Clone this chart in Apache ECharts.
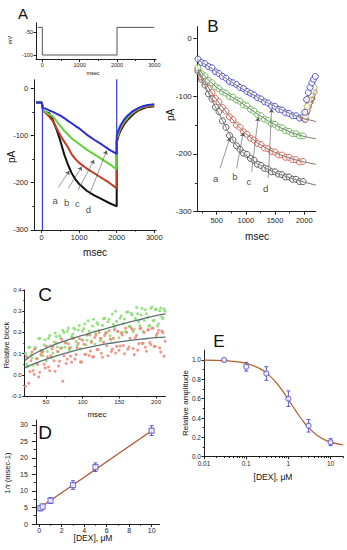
<!DOCTYPE html>
<html><head><meta charset="utf-8">
<script src="https://cdn.jsdelivr.net/npm/echarts@6/dist/echarts.min.js"></script>
<style>html,body{margin:0;padding:0;background:#fff}#c{width:347px;height:550px}</style>
</head><body><div id="c"></div>
<script>
// ---------- Panel A (top): voltage protocol ----------
const vT  = [-120, 0, 0, 2000, 2000, 3000];
const vMV = [-40, -40, -100, -100, -40, -40];

// ---------- Panel A (main): current traces ----------
const aBlueT  = [-150,0,30,100,200,300,400,500,600,700,800,900,1000,1200,1400,1600,1800,2000,2000,2050,2100,2200,2300,2400,2500,2600,2700,2800,2900,3000];
const aBlueV  = [-30,-30,-42,-43,-47,-50,-54,-58,-63,-69,-74,-80,-85,-98,-109,-119,-130,-139,-100,-88,-79,-66,-57,-50,-45,-41,-38,-36,-35,-34];
const aGreenT = [-150,0,40,100,200,300,400,500,600,700,800,1000,1200,1400,1600,1800,2000,2000,2050,2100,2200,2300,2400,2500,2600,2700,2800,2900,3000];
const aGreenV = [-30,-30,-48,-50,-55,-60,-70,-80,-90,-98,-106,-118,-130,-140,-150,-160,-172,-108,-93,-83,-70,-61,-53,-47,-43,-39,-37,-36,-35];
const aRedT   = [-150,0,40,100,200,300,400,500,600,700,800,900,1000,1200,1400,1600,1800,2000,2000,2050,2100,2200,2300,2400,2500,2600,2700,2800,2900,3000];
const aRedV   = [-30,-30,-48,-52,-60,-70,-85,-100,-113,-125,-140,-150,-158,-170,-180,-190,-200,-212,-112,-97,-87,-73,-63,-55,-49,-44,-41,-39,-38,-37];
const aBlackT = [-150,0,40,100,200,300,400,500,600,700,800,900,1000,1200,1400,1600,1800,2000,2000,2050,2100,2200,2300,2400,2500,2600,2700,2800,2900,3000];
const aBlackV = [-30,-30,-48,-50,-53,-68,-88,-112,-140,-162,-180,-193,-203,-217,-227,-235,-243,-250,-115,-100,-90,-76,-66,-58,-51,-46,-43,-40,-39,-38];
const capOnT = [20, 20],     capOnV = [-40, -300];
const capOffT = [2000, 2000], capOffV = [20, -110];
const aLabels = ['a','b','c','d'];
const aLabelPos = [[355,-238],[667,-242],[949,-245],[1243,-256]];
const aArrowFrom = [[443,-210],[709,-212],[976,-215],[1270,-226]];
const aArrowTo   = [[736,-175],[1067,-166],[1395,-152],[1733,-132]];

// ---------- Panel B ----------
const bT = [180,240,300,360,420,480,540,600,660,720,780,840,900,960,1020,1080,1140,1200,1260,1320,1380,1440,1500,1560,1620,1680,1740,1800,1860,1920,1980];
const bBlue  = [-36,-42,-44,-49,-51,-58,-61,-66,-69,-75,-77,-80,-85,-87,-92,-95,-98,-103,-105,-110,-112,-117,-118,-123,-124,-129,-130,-134,-134,-138,-137];
const bGreen = [-51,-61,-65,-73,-77,-84,-87,-93,-95,-101,-102,-107,-109,-115,-117,-123,-126,-132,-134,-140,-142,-148,-149,-154,-155,-160,-161,-165,-165,-169,-169];
const bRed   = [-54,-67,-75,-87,-94,-104,-110,-120,-126,-136,-141,-150,-154,-162,-166,-173,-176,-182,-184,-190,-191,-196,-197,-202,-202,-206,-206,-210,-210,-214,-213];
const bBlack = [-57,-71,-81,-96,-105,-119,-127,-143,-154,-168,-176,-186,-192,-199,-201,-208,-211,-218,-220,-225,-226,-231,-231,-235,-236,-240,-240,-244,-244,-248,-248];
const bFitT = [180,300,400,500,600,700,800,900,1000,1200,1400,1600,1800,2000,2200];
const bFitBlue  = [-37,-45,-51,-58,-65,-72,-79,-85,-91,-102,-113,-123,-132,-139,-144];
const bFitGreen = [-52,-66,-76,-85,-92,-98,-104,-110,-117,-131,-144,-155,-164,-170,-174];
const bFitRed   = [-55,-76,-92,-106,-119,-132,-144,-155,-165,-181,-193,-202,-209,-214,-218];
const bFitBlack = [-58,-82,-103,-123,-142,-162,-180,-193,-202,-217,-228,-236,-243,-249,-254];
const bRecBlueT  = [2010,2040,2070,2100,2130,2160,2190], bRecBlueV  = [-128,-106,-94,-85,-77,-71,-66];
const bRecGreenT = [2020,2050,2080,2110,2140,2170],      bRecGreenV = [-135,-118,-106,-97,-90,-85];
const bRecRedT   = [2020,2050,2080,2110,2140,2170],      bRecRedV   = [-140,-125,-113,-104,-97,-92];
const bRecBlackT = [2010,2040,2070,2100,2130],           bRecBlackV = [-140,-128,-118,-110,-104];
const bLabelPos = [[483,-242],[813,-239],[1053,-248],[1339,-260]];
const bArrowFrom = [[557,-225],[842,-225],[1099,-231],[1384,-242]];
const bArrowTo   = [[728,-172],[955,-163],[1212,-137],[1442,-122]];

// ---------- Panel C ----------
const xC = [22,25,28,31,34,37,40,43,46,49,52,55,58,61,64,67,70,73,76,79,82,85,88,91,94,97,100,103,106,109,112,115,118,121,124,127,130,133,136,139,142,145,148,151,154,157,160,163,166,169,172,175,178,181,184,187,190,193,196,199,202,205,208,211];
const cGreen = [.10,.04,.13,.08,.12,.055,.17,.115,.09,.165,.11,.185,.08,.155,.18,.11,.175,.21,.13,.205,.117,.18,.22,.157,.21,.123,.206,.24,.163,.206,.159,.262,.195,.238,.161,.233,.266,.199,.262,.165,.238,.30,.204,.267,.20,.263,.295,.228,.29,.203,.266,.288,.231,.313,.256,.288,.23,.313,.255,.308,.23,.302,.273,.31];
const cRed = [-.055,.08,.015,.108,.002,.076,-.01,.094,.11,.032,.085,.019,.122,.066,.15,.042,.125,-.03,.15,.074,.127,.06,.173,.096,.148,.061,.163,.096,.188,.091,.153,.085,.187,.119,.171,.083,.185,.137,.208,.11,.172,.103,.205,.136,.188,.099,.20,.131,.223,.124,.175,.116,.217,.148,.20,.111,.212,.143,.22,.135,.196,.127,.207,.088];
const xC2 = [23.5,26.5,29.5,32.5,35.5,38.5,41.5,44.5,47.5,50.5,53.5,56.5,59.5,62.5,65.5,68.5,71.5,74.5,77.5,80.5,83.5,86.5,89.5,92.5,95.5,98.5,101.5,104.5,107.5,110.5,113.5,116.5,119.5,122.5,125.5,128.5,131.5,134.5,137.5,140.5,143.5,146.5,149.5,152.5,155.5,158.5,161.5,164.5,167.5,170.5,173.5,176.5,179.5,182.5,185.5,188.5,191.5,194.5,197.5,200.5,203.5,206.5,209.5,212.5];
const cGreen2 = [.05,.13,.095,.045,.13,.077,.172,.107,.142,.065,.172,.137,.102,.197,.131,.184,.127,.20,.153,.22,.128,.192,.215,.138,.232,.165,.218,.142,.255,.188,.23,.144,.246,.21,.172,.265,.198,.25,.184,.287,.22,.252,.175,.278,.242,.204,.297,.23,.282,.215,.317,.25,.282,.205,.307,.27,.232,.32,.257,.309,.241,.315,.264,.30];
const cRed2 = [.086,-.04,.066,.02,.124,.048,.012,.106,.05,.134,.037,.09,.134,.017,.11,.064,.167,.09,.053,.146,.088,.171,.074,.127,.17,.06,.144,.097,.189,.112,.084,.176,.118,.20,.102,.154,.196,.09,.169,.121,.212,.134,.116,.197,.138,.22,.121,.172,.214,.095,.186,.147,.22,.149,.13,.211,.152,.22,.134,.185,.21,.107,.198,.158];
const cFitX = [21,30,40,50,60,80,100,120,140,160,180,200,213];
const cFitGreen = [.068,.09,.11,.125,.14,.165,.186,.207,.226,.245,.262,.279,.287];
const cFitRed   = [.033,.047,.06,.073,.085,.105,.123,.138,.150,.160,.168,.175,.178];

// ---------- Panel D ----------
const dX = [0.1, 0.3, 1, 3, 5, 10];
const dY = [4.8, 5.3, 7.1, 11.8, 17.2, 28.3];
const dErr = [0.8, 0.75, 0.9, 1.3, 1.3, 1.5];
const dFitX = [0.05, 10.2], dFitY = [4.9, 28.7];

// ---------- Panel E ----------
const eX = [0.03, 0.1, 0.3, 1, 3, 10];
const eY = [1.0, 0.93, 0.86, 0.60, 0.32, 0.15];
const eErr = [0, 0.045, 0.07, 0.08, 0.065, 0.036];
const eFitX = [0.01,0.02,0.05,0.1,0.2,0.3,0.5,0.7,1,1.5,2,3,5,7,10,20];
const eFitY = [0.998,0.995,0.985,0.964,0.916,0.867,0.772,0.69,0.59,0.473,0.395,0.30,0.216,0.178,0.151,0.121];

// ---------- build ----------
const FONT = '"Liberation Sans", Arial, sans-serif';
const AX = '#1e1e1e';
const zip = (xs, ys) => xs.map((x, i) => [x, ys[i]]);

const grids = [
  {left: 36.0, top: 22.8, width: 120.2, height: 36.8},   // A top
  {left: 34.2, top: 79.8, width: 121.9, height: 150.1},  // A main
  {left: 196.8, top: 26.7, width: 119.1, height: 185},   // B
  {left: 24.7, top: 290, width: 140.8, height: 106},     // C
  {left: 35.9, top: 420, width: 123.6, height: 104},     // D
  {left: 204, top: 350.3, width: 139.3, height: 106.4}   // E
];

const fPlain = v => String(Number(Number(v).toPrecision(6)));
function mkAxis(dim, g, o) {
  const base = {
    type: o.type || 'value', gridIndex: g, min: o.min, max: o.max,
    position: dim === 'x' ? 'bottom' : 'left', offset: 0,
    splitLine: {show: false}, minorTick: {show: false}, minorSplitLine: {show: false}
  };
  if (o.type === 'log') base.logBase = 10;
  const main = Object.assign({}, base, {
    axisLine: {show: true, onZero: false, lineStyle: {color: AX, width: 1}},
    axisTick: {show: true, length: o.tick || 3, customValues: o.majors, lineStyle: {color: AX, width: 1}},
    axisLabel: {show: true, customValues: o.majors, fontSize: o.fs, margin: o.margin, color: AX,
      fontFamily: FONT, formatter: o.fmt || fPlain, showMinLabel: true, showMaxLabel: true, hideOverlap: false}
  });
  const minor = Object.assign({}, base, {
    axisLine: {show: false, onZero: false},
    axisTick: {show: !!(o.minors && o.minors.length), length: (o.tick || 3) * 0.55,
      customValues: o.minors || [], lineStyle: {color: AX, width: 1}},
    axisLabel: {show: false}
  });
  return [main, minor];
}

const f1 = v => Number(v).toFixed(1);
const fLog = v => String(Number(Number(v).toPrecision(2)));
const xSpecs = [
  {min: -170, max: 3050, majors: [0,1000,2000,3000], minors: [500,1500,2500], fs: 5.5, margin: 2, tick: 2.5},
  {min: -200, max: 3050, majors: [0,1000,2000,3000], minors: [500,1500,2500], fs: 7.5, margin: 4},
  {min: 160, max: 2200, majors: [500,1000,1500,2000], minors: [250,750,1250,1750], fs: 7.5, margin: 5},
  {min: 21, max: 213, majors: [50,100,150,200], minors: [25,75,125,175], fs: 6, margin: 3, tick: 2.5},
  {min: -0.3, max: 10.7, majors: [0,2,4,6,8,10], minors: [1,3,5,7,9], fs: 7, margin: 3},
  {type: 'log', min: 0.01, max: 20, majors: [0.01,0.1,1,10], minors: [0.02,0.03,0.04,0.05,0.06,0.07,0.08,0.09,0.2,0.3,0.4,0.5,0.6,0.7,0.8,0.9,2,3,4,5,6,7,8,9,20], fs: 6.5, margin: 3, fmt: fLog, tick: 2.5}
];
const ySpecs = [
  {min: -110, max: -30, majors: [-100,-50], minors: [], fs: 5.5, margin: 3, tick: 2.5},
  {min: -300, max: 18, majors: [-300,-200,-100,0], minors: [-250,-150,-50], fs: 7.5, margin: 6, tick: 3.5},
  {min: -300, max: 20, majors: [-300,-200,-100,0], minors: [-250,-150,-50], fs: 8, margin: 5, tick: 3.5},
  {min: -0.1, max: 0.4, majors: [-0.1,0,0.1,0.2,0.3,0.4], minors: [-0.05,0.05,0.15,0.25,0.35], fs: 6, margin: 3, fmt: f1, tick: 2.5},
  {min: 0, max: 31.5, majors: [0,5,10,15,20,25,30], minors: [2.5,7.5,12.5,17.5,22.5,27.5], fs: 7, margin: 8, tick: 4},
  {min: 0, max: 1.1, majors: [0,0.2,0.4,0.6,0.8,1.0], minors: [0.1,0.3,0.5,0.7,0.9], fs: 6.5, margin: 3, fmt: f1, tick: 2.5}
];
const xAxis = [], yAxis = [];
xSpecs.forEach((s, g) => xAxis.push(...mkAxis('x', g, s)));
ySpecs.forEach((s, g) => yAxis.push(...mkAxis('y', g, s)));

const series = [];
function line(g, data, color, width, extra) {
  series.push(Object.assign({type: 'line', xAxisIndex: 2*g, yAxisIndex: 2*g, data, symbol: 'none',
    showSymbol: false, lineStyle: {color, width}, itemStyle: {color}, animation: false, silent: true}, extra || {}));
}
function circles(g, data, color, size, extra) {
  series.push(Object.assign({type: 'scatter', xAxisIndex: 2*g, yAxisIndex: 2*g, data, symbol: 'circle',
    symbolSize: size, itemStyle: {color: '#fff', borderColor: color, borderWidth: 1}, animation: false, silent: true}, extra || {}));
}
function dots(g, data, color, size) {
  series.push({type: 'scatter', xAxisIndex: 2*g, yAxisIndex: 2*g, data, symbol: 'circle', symbolSize: size,
    itemStyle: {color, opacity: 0.85}, animation: false, silent: true});
}
function letters(g, pos) {
  series.push({type: 'scatter', xAxisIndex: 2*g, yAxisIndex: 2*g, symbolSize: 1,
    itemStyle: {color: 'rgba(0,0,0,0)'}, animation: false, silent: true,
    data: pos.map((p, i) => ({value: p, name: aLabels[i]})),
    label: {show: true, position: 'inside', formatter: '{b}', fontSize: 9.5, color: '#111', fontFamily: FONT}, z: 5});
}
function arrows(g, from, to) {
  series.push({type: 'lines', coordinateSystem: 'cartesian2d', xAxisIndex: 2*g, yAxisIndex: 2*g,
    symbol: ['none', 'arrow'], symbolSize: 4, animation: false, silent: true,
    lineStyle: {color: '#555', width: 0.6, opacity: 1, curveness: 0},
    data: from.map((f, i) => ({coords: [f, to[i]]})), z: 5});
}
function errBars(g, xs, ys, es, color) {
  series.push({type: 'custom', xAxisIndex: 2*g, yAxisIndex: 2*g, encode: {x: 0, y: 1},
    data: xs.map((x, i) => [x, ys[i], es[i]]), animation: false, silent: true, z: 3,
    renderItem: (p, api) => {
      const x = api.value(0), y = api.value(1), e = api.value(2);
      const lo = api.coord([x, y - e]), hi = api.coord([x, y + e]);
      const w = 2, st = {stroke: color, lineWidth: 1};
      return {type: 'group', children: [
        {type: 'line', shape: {x1: lo[0], y1: lo[1], x2: hi[0], y2: hi[1]}, style: st},
        {type: 'line', shape: {x1: lo[0]-w, y1: lo[1], x2: lo[0]+w, y2: lo[1]}, style: st},
        {type: 'line', shape: {x1: hi[0]-w, y1: hi[1], x2: hi[0]+w, y2: hi[1]}, style: st}]};
    }});
}

const BLUE = '#2b2bd8', GREEN = '#62d23a', RED = '#c23a22', BLACK = '#111';
// A top
line(0, zip(vT, vMV), '#555', 1);
// A main
line(1, zip(aBlackT, aBlackV), BLACK, 2);
line(1, zip(aRedT, aRedV), RED, 2);
line(1, zip(aGreenT, aGreenV), GREEN, 2);
line(1, zip(aBlueT, aBlueV), BLUE, 2);
line(1, zip(capOnT, capOnV), '#3a3ae0', 1.2);
line(1, zip(capOffT, capOffV), '#3a3ae0', 1.2);
letters(1, aLabelPos);
arrows(1, aArrowFrom, aArrowTo);
// B
circles(2, zip(bT, bBlack), '#3a3a3a', 6);
circles(2, zip(bT, bRed), '#cf4a36', 6);
circles(2, zip(bT, bGreen), '#4fae3a', 6);
circles(2, zip(bT, bBlue), '#3535c8', 6);
circles(2, zip(bRecBlackT, bRecBlackV), '#3a3a3a', 6);
circles(2, zip(bRecRedT, bRecRedV), '#cf4a36', 6);
circles(2, zip(bRecGreenT, bRecGreenV), '#a8b030', 6);
circles(2, zip(bRecBlueT, bRecBlueV), '#3535c8', 6);
line(2, zip(bFitT, bFitBlue), '#7a7a7a', 1);
line(2, zip(bFitT, bFitGreen), '#7a7a7a', 1);
line(2, zip(bFitT, bFitRed), '#7a7a7a', 1);
line(2, zip(bFitT, bFitBlack), '#7a7a7a', 1);
letters(2, bLabelPos);
arrows(2, bArrowFrom, bArrowTo);
// C
dots(3, zip(xC, cGreen), '#86dc6c', 3);
dots(3, zip(xC2, cGreen2), '#86dc6c', 3);
dots(3, zip(xC, cRed), '#ec8676', 3);
dots(3, zip(xC2, cRed2), '#ec8676', 3);
line(3, zip(cFitX, cFitGreen), '#5d7272', 1.3, {smooth: true});
line(3, zip(cFitX, cFitRed), '#5d7272', 1.3, {smooth: true});
// D
line(4, zip(dFitX, dFitY), '#b0502a', 1.2);
errBars(4, dX, dY, dErr, '#5a5ad2');
series.push({type: 'scatter', xAxisIndex: 8, yAxisIndex: 8, data: zip(dX, dY), symbol: 'rect', symbolSize: 5,
  itemStyle: {color: '#fff', borderColor: '#5a5ad2', borderWidth: 1.2}, animation: false, silent: true, z: 4});
// E
line(5, zip(eFitX, eFitY), '#b0602a', 1.2, {smooth: true});
errBars(5, eX, eY, eErr, '#5a5ad2');
series.push({type: 'scatter', xAxisIndex: 10, yAxisIndex: 10, data: zip(eX, eY), symbol: 'circle', symbolSize: 5,
  itemStyle: {color: '#fff', borderColor: '#5a5ad2', borderWidth: 1.2}, animation: false, silent: true, z: 4});

function txt(x, y, text, size, rot) {
  return {type: 'text', x, y, rotation: rot ? Math.PI / 2 : 0, silent: true,
    style: {text, font: size + 'px ' + FONT, fill: '#111', align: 'center', verticalAlign: 'middle'}};
}
const graphic = [
  txt(23, 13, 'A', 15), txt(10, 40, 'mV', 5.5, true), txt(93, 73, 'msec', 5.5),
  txt(11, 157, 'pA', 10, true), txt(95, 252, 'msec', 10),
  txt(213, 26, 'B', 17), txt(170, 115, 'pA', 10, true), txt(257, 236, 'msec', 10),
  txt(45, 294, 'C', 19), txt(6, 345, 'Relative block', 7.5, true), txt(97, 414, 'msec', 8),
  txt(45, 432, 'D', 19), txt(7, 473, '1/τ (msec-1)', 7.5, true), txt(93, 538, '[DEX], μM', 8.5),
  txt(219, 341, 'E', 17), txt(185, 403, 'Relative amplitude', 8, true), txt(273, 477, '[DEX], μM', 8.5)
];

const chart = echarts.init(document.getElementById('c'), null, {renderer: 'svg', width: 347, height: 550});
chart.setOption({animation: false, backgroundColor: '#fff', grid: grids, xAxis, yAxis, series, graphic});
</script>
</body></html>
